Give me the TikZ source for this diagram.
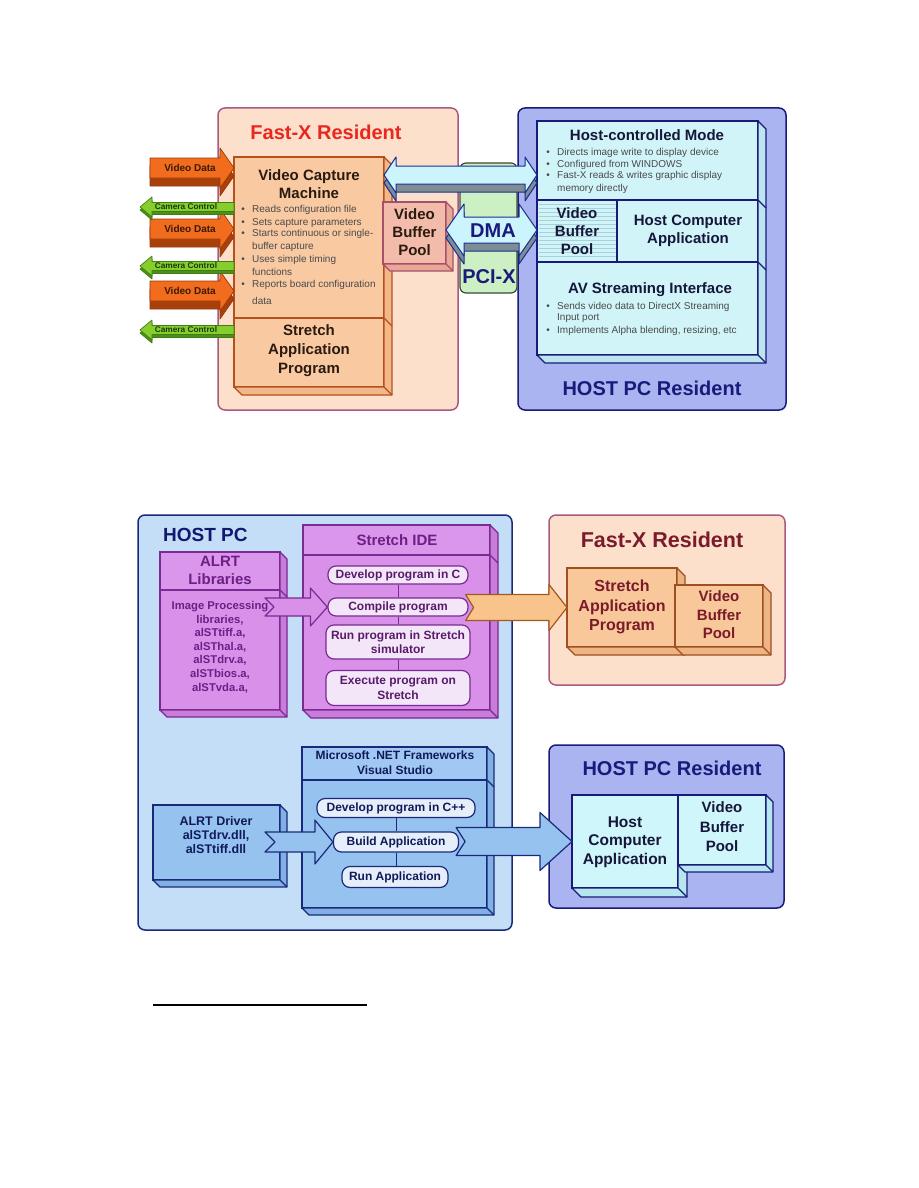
\documentclass[tikz,border=0pt]{standalone}
\usepackage{fontspec}
\setmainfont{Liberation Sans}
\usetikzlibrary{calc}

\definecolor{fxfill}{HTML}{FCE0CC}
\definecolor{fxdraw}{HTML}{A85A80}
\definecolor{fxred}{HTML}{E8281E}
\definecolor{hpfill}{HTML}{AAB4F0}
\definecolor{navy}{HTML}{1A1A7A}
\definecolor{hbfill}{HTML}{D0F4F8}
\definecolor{hbside}{HTML}{BCE6EE}
\definecolor{stripe}{HTML}{A8D0DA}
\definecolor{vcmfill}{HTML}{F9CAA2}
\definecolor{vcmside}{HTML}{F2B88A}
\definecolor{vcmdraw}{HTML}{B4501A}
\definecolor{vbpfill}{HTML}{F2BBAA}
\definecolor{vbpside}{HTML}{E8A898}
\definecolor{vbpdraw}{HTML}{A8506A}
\definecolor{orarrow}{HTML}{F26C1E}
\definecolor{orshadow}{HTML}{A8400C}
\definecolor{ordraw}{HTML}{9A3A0A}
\definecolor{grarrow}{HTML}{86CE2E}
\definecolor{grshadow}{HTML}{4E8E1A}
\definecolor{grdraw}{HTML}{3E7E12}
\definecolor{cyarrow}{HTML}{CCF4FC}
\definecolor{cydraw}{HTML}{1A3090}
\definecolor{grayshadow}{HTML}{7E8C94}
\definecolor{pcifill}{HTML}{CDEFC4}
\definecolor{pcidraw}{HTML}{3A4A3A}
\definecolor{hostbg}{HTML}{C4DEF8}
\definecolor{purfill}{HTML}{D890E8}
\definecolor{purhead}{HTML}{DA96EA}
\definecolor{purside}{HTML}{C97CDA}
\definecolor{purdraw}{HTML}{7A2A92}
\definecolor{purtext}{HTML}{6E1E86}
\definecolor{pilltext}{HTML}{5A1A6A}
\definecolor{pillpur}{HTML}{F2E6F8}
\definecolor{bluefill}{HTML}{96C2F0}
\definecolor{bluehead}{HTML}{A0C8F2}
\definecolor{blueside}{HTML}{80B0E4}
\definecolor{bluedraw}{HTML}{1A2A7A}
\definecolor{bluetext}{HTML}{101A5A}
\definecolor{pillblue}{HTML}{E6EEFA}
\definecolor{sapfill}{HTML}{F8C89A}
\definecolor{sapside}{HTML}{EDB484}
\definecolor{sapdraw}{HTML}{A05020}
\definecolor{darkred}{HTML}{7A1A2A}
\definecolor{orange2}{HTML}{F8C48C}
\definecolor{orange2d}{HTML}{A05A1E}
\definecolor{hcafill}{HTML}{CFF6FA}
\definecolor{hcaside}{HTML}{B6E6EE}
\definecolor{bulletgray}{HTML}{4A4A4A}
\definecolor{dk}{HTML}{2A1A10}
\definecolor{hdk}{HTML}{16163A}
\definecolor{vdtext}{HTML}{3A1A08}
\definecolor{cctext}{HTML}{1A3A0A}
\definecolor{titlenavy}{HTML}{101870}

\newcommand\fsz[2]{\fontsize{#1}{#2}\selectfont}

% extrusion of a front face: #1 NE, #2 SE, #3 SW, #4 depth, #5 style
\newcommand\extr[5]{%
  \path[#5] (#1) -- ($(#1)+(#4,#4)$) -- ($(#2)+(#4,#4)$) -- ($(#3)+(#4,#4)$) -- (#3) -- (#2) -- cycle;
  \draw[#5,fill=none] (#2) -- ($(#2)+(#4,#4)$);}

% right-pointing fat arrow: style, tail, tip, body half, head half, head length, notch
\newcommand\rarrow[7]{%
  \path[#1] let \p1=(#2), \p2=(#3) in
    (\x1,\y2+#4pt) -- (\x2-#6pt,\y2+#4pt) -- (\x2-#6pt,\y2+#5pt) -- (\x2,\y2)
    -- (\x2-#6pt,\y2-#5pt) -- (\x2-#6pt,\y2-#4pt) -- (\x1,\y2-#4pt) -- (\x1+#7pt,\y2) -- cycle;}

% left-pointing fat arrow: style, tail (right), tip (left), body half, head half, head length
\newcommand\larrow[6]{%
  \path[#1] let \p1=(#2), \p2=(#3) in
    (\x1,\y2+#4pt) -- (\x2+#6pt,\y2+#4pt) -- (\x2+#6pt,\y2+#5pt) -- (\x2,\y2)
    -- (\x2+#6pt,\y2-#5pt) -- (\x2+#6pt,\y2-#4pt) -- (\x1,\y2-#4pt) -- cycle;}

% double fat arrow: style, left tip, right tip, body half, head half, head length
\newcommand\darrow[6]{%
  \path[#1] let \p1=(#2), \p2=(#3) in
    (\x1,\y1) -- (\x1+#6pt,\y1+#5pt) -- (\x1+#6pt,\y1+#4pt) -- (\x2-#6pt,\y1+#4pt)
    -- (\x2-#6pt,\y1+#5pt) -- (\x2,\y1) -- (\x2-#6pt,\y1-#5pt) -- (\x2-#6pt,\y1-#4pt)
    -- (\x1+#6pt,\y1-#4pt) -- (\x1+#6pt,\y1-#5pt) -- cycle;}

% bullet line: name, bullet x, text x, baseline y, text
\newcommand\bul[5]{%
  \node[anchor=base, inner sep=0pt, font=\normalfont\fsz{10}{12}, text=bulletgray] (#1b) at (#2,#4) {•};
  \node[anchor=base west, inner sep=0pt, font=\normalfont\fsz{10}{12}, text=bulletgray] (#1) at (#3,#4) {#5};}
\newcommand\cont[4]{%
  \node[anchor=base west, inner sep=0pt, font=\normalfont\fsz{10}{12}, text=bulletgray] (#1) at (#2,#3) {#4};}

\begin{document}
\begin{tikzpicture}[x=1pt,y=-1pt,
  box/.style={rectangle, inner sep=0pt, outer sep=0pt, anchor=north west},
  tx/.style={inner sep=0pt, align=center},
  panel/.style={box, rounded corners=7pt, line width=1.5pt},
  pillp/.style={rectangle, rounded corners=8pt, inner sep=0pt, fill=pillpur, draw=purdraw, line width=1.2pt, align=center, text=pilltext, font=\bfseries\fsz{12}{14.5}},
  pillb/.style={rectangle, rounded corners=8pt, inner sep=0pt, fill=pillblue, draw=bluedraw, line width=1.2pt, align=center, text=bluetext, font=\bfseries\fsz{12}{14.5}},
  vd/.style={fill=orarrow, draw=ordraw, line width=0.7pt, line join=round},
  vdsh/.style={fill=orshadow, draw=ordraw, line width=0.7pt, line join=round},
  cc/.style={fill=grarrow, draw=grdraw, line width=0.7pt, line join=round},
  ccsh/.style={fill=grshadow, draw=grdraw, line width=0.7pt, line join=round},
  cy/.style={fill=cyarrow, draw=cydraw, line width=1pt, line join=round},
  cysh/.style={fill=grayshadow, draw=cydraw, line width=1pt, line join=round},
  purarr/.style={fill=purfill, draw=purdraw, line width=1.2pt, line join=round},
  orarr/.style={fill=orange2, draw=orange2d, line width=1.2pt, line join=round},
  bluearr/.style={fill=bluefill, draw=bluedraw, line width=1.2pt, line join=round},
  link/.style={line width=1pt}
]
\useasboundingbox[fill=white] (0,0) rectangle (918,1188);

% ================= TOP DIAGRAM =================
\node[panel, minimum width=240pt, minimum height=302pt, fill=fxfill, draw=fxdraw] (fxp) at (218,108) {};
\node[panel, minimum width=268pt, minimum height=302pt, fill=hpfill, draw=navy] (hpp) at (518,108) {};
\node[box, rounded corners=6pt, minimum width=57pt, minimum height=130pt, fill=pcifill, draw=pcidraw, line width=1.2pt] (pci) at (460,163) {};

\node[tx, font=\bfseries\fsz{20}{24}, text=fxred] (fxt) at (326,132) {Fast-X Resident};
\node[tx, font=\bfseries\fsz{20}{24}, text=navy] (hpt) at (652,388) {HOST PC Resident};
\node[tx, font=\bfseries\fsz{20}{24}, text=navy] (pcit) at (489,277) {PCI-X};

% host box
\node[box, minimum width=221pt, minimum height=79pt, fill=hbfill, draw=navy, line width=1.2pt] (hcm) at (537,121) {};
\node[box, minimum width=80pt, minimum height=62pt, fill=hbfill, draw=navy, line width=1.2pt] (hvbp) at (537,200) {};
\foreach \yy in {204,208,...,258} \draw[stripe, line width=0.5pt] (538.5,\yy) -- (615.5,\yy);
\node[box, minimum width=80pt, minimum height=62pt, draw=navy, line width=1.2pt] (hvbpo) at (537,200) {};
\node[box, minimum width=141pt, minimum height=62pt, fill=hbfill, draw=navy, line width=1.2pt] (hca) at (617,200) {};
\node[box, minimum width=221pt, minimum height=93pt, fill=hbfill, draw=navy, line width=1.2pt] (avs) at (537,262) {};
\extr{hcm.north east}{avs.south east}{avs.south west}{8}{fill=hbside, draw=navy, line width=1.2pt, line join=round}
\draw[navy, line width=1.2pt] (hcm.south east) -- ++(8,8);
\draw[navy, line width=1.2pt] (hca.south east) -- ++(8,8);

\node[tx, font=\bfseries\fsz{15}{18}, text=hdk] (hcmt) at (647,135) {Host-controlled Mode};
\bul{hb1}{548}{557}{155.5}{Directs image write to display device}
\bul{hb2}{548}{557}{167}{Configured from WINDOWS}
\bul{hb3}{548}{557}{178.5}{Fast-X reads \& writes graphic display}
\cont{hb3c}{557}{191.5}{memory directly}
\node[tx, font=\bfseries\fsz{15}{18}, text=hdk] (hvbpt) at (577,231) {Video\\Buffer\\Pool};
\node[tx, font=\bfseries\fsz{15}{17.5}, text=hdk] (hcat) at (688,231) {Host Computer\\Application};
\node[tx, font=\bfseries\fsz{15}{18}, text=hdk] (avst) at (650,290) {AV Streaming Interface};
\bul{ab1}{548}{557}{309.5}{Sends video data to DirectX Streaming}
\cont{ab1c}{557}{320.5}{Input port}
\bul{ab2}{548}{557}{333.5}{Implements Alpha blending, resizing, etc}

% video capture machine + stretch application program
\node[box, minimum width=150pt, minimum height=161pt, fill=vcmfill, draw=vcmdraw, line width=1.3pt] (vcm) at (234,157) {};
\node[box, minimum width=150pt, minimum height=69pt, fill=vcmfill, draw=vcmdraw, line width=1.3pt] (sap1) at (234,318) {};
\extr{vcm.north east}{sap1.south east}{sap1.south west}{8}{fill=vcmside, draw=vcmdraw, line width=1.3pt, line join=round}
\draw[vcmdraw, line width=1.3pt] (vcm.south east) -- ++(8,8);

\node[tx, font=\bfseries\fsz{15}{18}, text=dk] (vcmt) at (309,184) {Video Capture\\Machine};
\bul{vb1}{243}{252}{212.5}{Reads configuration file}
\bul{vb2}{243}{252}{225.5}{Sets capture parameters}
\bul{vb3}{243}{252}{236.5}{Starts continuous or single-}
\cont{vb3c}{252}{249.5}{buffer capture}
\bul{vb4}{243}{252}{262.5}{Uses simple timing}
\cont{vb4c}{252}{275.5}{functions}
\bul{vb5}{243}{252}{287.5}{Reports board configuration}
\cont{vb5c}{252}{304.5}{data}
\node[tx, font=\bfseries\fsz{15}{19}, text=dk] (sap1t) at (309,351) {Stretch\\Application\\Program};

% video buffer pool (Fast-X)
\node[box, minimum width=63pt, minimum height=62pt, fill=vbpfill, draw=vbpdraw, line width=1.2pt] (vbp1) at (383,202) {};
\extr{vbp1.north east}{vbp1.south east}{vbp1.south west}{7}{fill=vbpside, draw=vbpdraw, line width=1.2pt, line join=round}
\node[tx, font=\bfseries\fsz{15}{18}, text=dk] (vbp1t) at (414.5,232) {Video\\Buffer\\Pool};

% Video Data arrows
\coordinate (vd1) at (150,168);
\coordinate (vd2) at (150,229);
\coordinate (vd3) at (150,291);
\coordinate (vd1t) at (vcm.west |- vd1);
\coordinate (vd2t) at (vcm.west |- vd2);
\coordinate (vd3t) at (vcm.west |- vd3);
\foreach \i in {1,2,3}{
  \rarrow{vdsh}{$(vd\i)+(0,8)$}{$(vd\i t)+(0,8)$}{10}{20}{14}{0}
  \rarrow{vd}{vd\i}{vd\i t}{10}{20}{14}{0}
}
\node[tx, font=\bfseries\fsz{10}{12}, text=vdtext] (vd1l) at (190,168) {Video Data};
\node[tx, font=\bfseries\fsz{10}{12}, text=vdtext] (vd2l) at (190,229) {Video Data};
\node[tx, font=\bfseries\fsz{10}{12}, text=vdtext] (vd3l) at (190,291) {Video Data};

% Camera Control arrows
\coordinate (cc1) at (140,207);
\coordinate (cc2) at (140,266);
\coordinate (cc3) at (140,330);
\coordinate (cc1t) at (vcm.west |- cc1);
\coordinate (cc2t) at (vcm.west |- cc2);
\coordinate (cc3t) at (vcm.west |- cc3);
\foreach \i in {1,2,3}{
  \larrow{ccsh}{$(cc\i t)+(0,3)$}{$(cc\i)+(0,3)$}{4.5}{10}{12}
  \larrow{cc}{cc\i t}{cc\i}{4.5}{10}{12}
}
\node[tx, font=\bfseries\fsz{8.3}{10}, text=cctext] (cc1l) at (186,207) {Camera Control};
\node[tx, font=\bfseries\fsz{8.3}{10}, text=cctext] (cc2l) at (186,266) {Camera Control};
\node[tx, font=\bfseries\fsz{8.3}{10}, text=cctext] (cc3l) at (186,330) {Camera Control};

% top double arrow (host-controlled) and DMA
\coordinate (ta) at (400,175);
\coordinate (tal) at (vcm.east |- ta);
\coordinate (tar) at (hcm.west |- ta);
\darrow{cysh}{$(tal)+(0,8)$}{$(tar)+(0,8)$}{9}{18}{12}
\darrow{cy}{tal}{tar}{9}{18}{12}
\coordinate (dm) at (460,230);
\coordinate (dml) at (vbp1.east |- dm);
\coordinate (dmr) at (hvbp.west |- dm);
\darrow{cysh}{$(dml)+(0,8)$}{$(dmr)+(0,8)$}{13}{26}{18}
\darrow{cy}{dml}{dmr}{13}{26}{18}
\node[tx, font=\bfseries\fsz{20}{24}, text=navy] (dmat) at (493,231) {DMA};

% ================= BOTTOM DIAGRAM =================
\node[panel, minimum width=374pt, minimum height=415pt, fill=hostbg, draw=bluedraw] (hpc) at (138,515) {};
\node[panel, minimum width=236pt, minimum height=170pt, fill=fxfill, draw=fxdraw] (fx2) at (549,515) {};
\node[panel, minimum width=235pt, minimum height=163pt, fill=hpfill, draw=navy] (hr) at (549,745) {};

\node[anchor=west, inner sep=0pt, font=\bfseries\fsz{19}{23}, text=titlenavy] (hpct) at (163,535) {HOST PC};

% Stretch IDE
\node[box, minimum width=187pt, minimum height=30pt, fill=purhead, draw=purdraw, line width=1.2pt] (ideh) at (303,525) {};
\node[box, minimum width=187pt, minimum height=155pt, fill=purfill, draw=purdraw, line width=1.2pt] (ideb) at (303,555) {};
\extr{ideh.north east}{ideb.south east}{ideb.south west}{8}{fill=purside, draw=purdraw, line width=1.2pt, line join=round}
\draw[purdraw, line width=1.2pt] (ideh.south east) -- ++(8,8);
\node[tx, font=\bfseries\fsz{15}{18}, text=purtext] (idet) at (397,540) {Stretch IDE};

\node[pillp, minimum width=140pt, minimum height=18pt] (p1) at (398,575) {Develop program in C};
\node[pillp, minimum width=140pt, minimum height=18pt] (p2) at (398,607) {Compile program};
\node[pillp, minimum width=144pt, minimum height=34pt] (p3) at (398,642) {Run program in Stretch\\simulator};
\node[pillp, minimum width=144pt, minimum height=35pt] (p4) at (398,688) {Execute program on\\Stretch};
\draw[purdraw, link] (p1.south) -- (p2.north);
\draw[purdraw, link] (p2.south) -- (p3.north);
\draw[purdraw, link] (p3.south) -- (p4.north);

% ALRT Libraries
\node[box, minimum width=120pt, minimum height=38pt, fill=purhead, draw=purdraw, line width=1.2pt] (alh) at (160,552) {};
\node[box, minimum width=120pt, minimum height=120pt, fill=purfill, draw=purdraw, line width=1.2pt] (alb) at (160,590) {};
\extr{alh.north east}{alb.south east}{alb.south west}{7}{fill=purside, draw=purdraw, line width=1.2pt, line join=round}
\draw[purdraw, line width=1.2pt] (alh.south east) -- ++(7,7);
\node[tx, font=\bfseries\fsz{15}{18}, text=purtext] (alht) at (220,570) {ALRT\\Libraries};
\node[tx, font=\bfseries\fsz{11.3}{13.6}, text=purtext] (albt) at (220,647) {Image Processing\\libraries,\\alSTtiff.a,\\alSThal.a,\\alSTdrv.a,\\alSTbios.a,\\alSTvda.a,};

% Fast-X resident (bottom)
\node[tx, font=\bfseries\fsz{21.5}{25}, text=darkred] (fx2t) at (662,540) {Fast-X Resident};
\node[box, minimum width=110pt, minimum height=79pt, fill=sapfill, draw=sapdraw, line width=1.2pt] (sap) at (567,568) {};
\extr{sap.north east}{sap.south east}{sap.south west}{8}{fill=sapside, draw=sapdraw, line width=1.2pt, line join=round}
\node[box, minimum width=88pt, minimum height=62pt, fill=sapfill, draw=sapdraw, line width=1.2pt] (vbp2) at (675,585) {};
\extr{vbp2.north east}{vbp2.south east}{vbp2.south west}{8}{fill=sapside, draw=sapdraw, line width=1.2pt, line join=round}
\node[tx, font=\bfseries\fsz{16}{19.5}, text=darkred] (sapt) at (622,607) {Stretch\\Application\\Program};
\node[tx, font=\bfseries\fsz{15}{18.5}, text=darkred] (vbp2t) at (719,615) {Video\\Buffer\\Pool};

% arrows IDE
\coordinate (pa) at (265,607);
\rarrow{purarr}{pa}{p2.west}{9}{19}{17}{9}
\coordinate (oa) at ($(p2.east)+(-3,0)$);
\rarrow{orarr}{oa}{sap.west}{13}{23}{18}{8}

% .NET
\node[box, minimum width=185pt, minimum height=33pt, fill=bluehead, draw=bluedraw, line width=1.2pt] (nh) at (302,747) {};
\node[box, minimum width=185pt, minimum height=128pt, fill=bluefill, draw=bluedraw, line width=1.2pt] (nb) at (302,780) {};
\extr{nh.north east}{nb.south east}{nb.south west}{7}{fill=blueside, draw=bluedraw, line width=1.2pt, line join=round}
\draw[bluedraw, line width=1.2pt] (nh.south east) -- ++(7,7);
\node[tx, font=\bfseries\fsz{12}{15}, text=bluetext] (nht) at (395,763) {Microsoft .NET Frameworks\\Visual Studio};
\node[pillb, minimum width=158pt, minimum height=19pt] (q1) at (396,808) {Develop program in C++};
\node[pillb, minimum width=125pt, minimum height=20pt] (q2) at (396,842) {Build Application};
\node[pillb, minimum width=106pt, minimum height=21pt] (q3) at (395,877) {Run Application};
\draw[bluedraw, link] (q1.south) -- (q2.north);
\draw[bluedraw, link] (q2.south) -- (q2.south |- q3.north);

% ALRT Driver
\node[box, minimum width=127pt, minimum height=75pt, fill=bluefill, draw=bluedraw, line width=1.2pt] (ad) at (153,805) {};
\extr{ad.north east}{ad.south east}{ad.south west}{7}{fill=blueside, draw=bluedraw, line width=1.2pt, line join=round}
\node[tx, font=\bfseries\fsz{12.5}{14}, text=bluetext] (adt) at (216,835) {ALRT Driver\\alSTdrv.dll,\\alSTtiff.dll};

% HOST PC resident (bottom)
\node[tx, font=\bfseries\fsz{20}{24}, text=navy] (hrt) at (672,768) {HOST PC Resident};
\node[box, minimum width=106pt, minimum height=93pt, fill=hcafill, draw=navy, line width=1.2pt] (hcab) at (572,795) {};
\extr{hcab.north east}{hcab.south east}{hcab.south west}{9}{fill=hcaside, draw=navy, line width=1.2pt, line join=round}
\node[box, minimum width=88pt, minimum height=70pt, fill=hcafill, draw=navy, line width=1.2pt] (vbp3) at (678,795) {};
\extr{vbp3.north east}{vbp3.south east}{vbp3.south west}{7}{fill=hcaside, draw=navy, line width=1.2pt, line join=round}
\node[tx, font=\bfseries\fsz{15.5}{18.5}, text=hdk] (hcabt) at (625,842) {Host\\Computer\\Application};
\node[tx, font=\bfseries\fsz{15}{19.5}, text=hdk] (vbp3t) at (722,827) {Video\\Buffer\\Pool};

% arrows .NET
\coordinate (ba) at (265,842);
\rarrow{bluearr}{ba}{q2.west}{10}{22}{18}{10}
\coordinate (bb) at ($(q2.east)+(-3,0)$);
\rarrow{bluearr}{bb}{hcab.west}{14}{29}{32}{9}

% footnote rule
\draw[line width=2pt] (153,1005) -- (367,1005);
\end{tikzpicture}
\end{document}
